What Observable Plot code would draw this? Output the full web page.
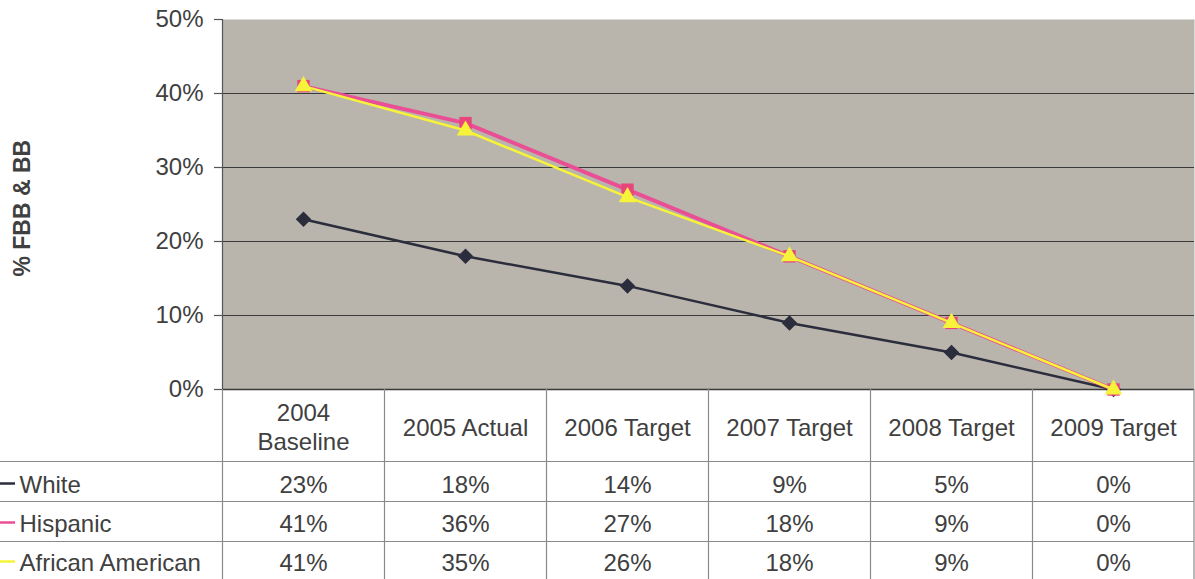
<!DOCTYPE html>
<html>
<head>
<meta charset="utf-8">
<script src="https://cdn.jsdelivr.net/npm/d3@7"></script>
<script src="https://cdn.jsdelivr.net/npm/@observablehq/plot@0.6"></script>
<style>
  html, body { margin: 0; padding: 0; background: #fff; }
  svg { display: block; }
</style>
</head>
<body>
<div id="chart"></div>
<script>
// ---- data ----
const categories = ["2004 Baseline", "2005 Actual", "2006 Target", "2007 Target", "2008 Target", "2009 Target"];
const headerLabels = ["2004\nBaseline", "2005 Actual", "2006 Target", "2007 Target", "2008 Target", "2009 Target"];
const seriesNames = ["White", "Hispanic", "African American"];
const white = [23, 18, 14, 9, 5, 0];
const hispanic = [41, 36, 27, 18, 9, 0];
const africanAmerican = [41, 35, 26, 18, 9, 0];
const yTicks = [0, 10, 20, 30, 40, 50];
const gridValues = [10, 20, 30, 40];

// ---- styling ----
const seriesValues = [white, hispanic, africanAmerican];
const seriesColors = ["#2b2d3c", "#ea4f95", "#f6f33a"];
const markerFill = ["#2b2d3c", "#e8467a", "#f6f33a"];
const markerSymbols = ["diamond2", "square", "triangle"];
const markerR = [7, 7, 6.5];
const lineWidths = [2.5, 4, 2.5];

const W = 1195, H = 579;
const mLeft = 222, mRight = 1, mTop = 19, mBottom = 190;
const step = (W - mLeft - mRight) / categories.length;
const rowTextDy = [96, 135, 174];
const rowLineDy = [72, 112, 152];
const font = "Arial, 'Liberation Sans', sans-serif";
const fs = 24;
const txt = "#404040";

const rows = [];
seriesNames.forEach((s, si) => categories.forEach((c, ci) => rows.push({series: s, si, category: c, value: seriesValues[si][ci]})));

const marks = [
  Plot.frame({fill: "#b9b5ac", stroke: null}),
  Plot.ruleY(gridValues, {stroke: "#3a3a3a", strokeWidth: 1.2}),
  Plot.ruleX([categories[0]], {dx: -step / 2, stroke: "#555", strokeWidth: 1.2}),
  Plot.ruleY([0], {stroke: "#3a3a3a", strokeWidth: 1.5}),
  Plot.ruleY(yTicks, {stroke: "#555", insetLeft: -8, insetRight: W - mLeft - mRight, strokeWidth: 1.2}),
  Plot.text(yTicks, {y: d => d, text: d => d + "%", frameAnchor: "left", dx: -19, textAnchor: "end", fontSize: fs, fill: txt}),
  Plot.text(["% FBB & BB"], {y: () => 24.5, frameAnchor: "left", dx: 22 - mLeft, textAnchor: "middle", text: d => d, rotate: -90, fontSize: 23, fontWeight: "bold", fill: txt})
];

seriesNames.forEach((s, si) => {
  const data = rows.filter(r => r.si === si);
  marks.push(Plot.line(data, {x: "category", y: "value", stroke: seriesColors[si], strokeWidth: lineWidths[si]}));
  marks.push(Plot.dot(data, {x: "category", y: "value", symbol: () => markerSymbols[si], fill: markerFill[si], r: markerR[si], stroke: null}));
});

// table: vertical lines
marks.push(Plot.ruleX(categories, {x: d => d, y1: 0, y2: 0, insetBottom: -mBottom, dx: -step / 2, stroke: "#8a8a8a", strokeWidth: 1.2}));
marks.push(Plot.ruleX([categories[categories.length - 1]], {x: d => d, y1: 0, y2: 0, insetBottom: -mBottom, dx: step / 2 - 0.5, stroke: "#8a8a8a", strokeWidth: 1.2}));
// table: horizontal lines
rowLineDy.forEach(dy => {
  marks.push(Plot.ruleY([0], {dy, insetLeft: -mLeft, stroke: "#8a8a8a", strokeWidth: 1.2}));
});
// headers
marks.push(Plot.text(categories, {x: d => d, y: () => 0, dy: 37, text: (d, i) => headerLabels[i], fontSize: fs, lineHeight: 1.18, fill: txt}));
// row labels, legend swatches and values
seriesNames.forEach((s, si) => {
  marks.push(Plot.ruleY([0], {dy: rowTextDy[si] - 2, insetLeft: -mLeft, insetRight: W - mRight - 15, stroke: seriesColors[si], strokeWidth: 2.5}));
  marks.push(Plot.text([s], {y: () => 0, dy: rowTextDy[si], frameAnchor: "left", dx: 19 - mLeft, textAnchor: "start", text: d => d, fontSize: fs, fill: txt}));
  marks.push(Plot.text(rows.filter(r => r.si === si), {x: "category", y: () => 0, dy: rowTextDy[si], text: d => d.value + "%", fontSize: fs, fill: txt}));
});

const chart = Plot.plot({
  width: W,
  height: H,
  marginLeft: mLeft,
  marginRight: mRight,
  marginTop: mTop,
  marginBottom: mBottom,
  style: {fontFamily: font, background: "#fff", overflow: "visible"},
  x: {type: "point", domain: categories, padding: 0.5, axis: null},
  y: {domain: [0, 50], axis: null},
  marks
});
document.getElementById("chart").appendChild(chart);
</script>
</body>
</html>
